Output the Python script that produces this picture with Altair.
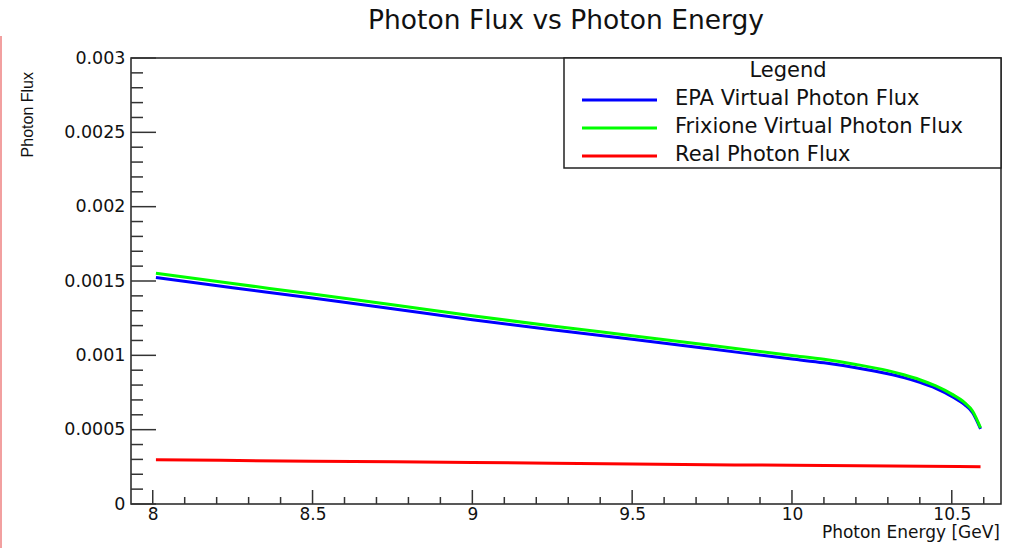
import altair as alt
import pandas as pd

# ---- data -----------------------------------------------------------------
energy = [8.01, 8.25, 8.5, 8.75, 9.0, 9.25, 9.5, 9.75, 10.0, 10.1, 10.2,
          10.3, 10.35, 10.4, 10.45, 10.5, 10.54, 10.565, 10.59]
epa_flux = [0.001523, 0.001455, 0.001385, 0.001313, 0.001240, 0.001172,
            0.001108, 0.001042, 0.000975, 0.000950, 0.000917, 0.000876,
            0.000850, 0.000818, 0.000778, 0.000724, 0.000668, 0.000615,
            0.000505]
frixione_flux = [0.001552, 0.001483, 0.001412, 0.001340, 0.001266, 0.001197,
                 0.001132, 0.001066, 0.000999, 0.000973, 0.000939, 0.000897,
                 0.000869, 0.000836, 0.000794, 0.000739, 0.000682, 0.000626,
                 0.000512]
real_energy = [8.01, 8.5, 9.0, 9.5, 10.0, 10.59]
real_flux = [0.000298, 0.000288, 0.000279, 0.000269, 0.000260, 0.000251]

series_names = ["EPA Virtual Photon Flux", "Frixione Virtual Photon Flux",
                "Real Photon Flux"]
series_colors = ["#0000ff", "#00ff00", "#ff0000"]

x_major = [8, 8.5, 9, 9.5, 10, 10.5]
y_major = [0, 0.0005, 0.001, 0.0015, 0.002, 0.0025, 0.003]
x_minor = [round(7.9 + 0.1 * i, 1) for i in range(1, 28)]
x_minor = [v for v in x_minor if v not in x_major]
y_minor = [round(0.0001 * i, 4) for i in range(0, 31)]
y_minor = [v for v in y_minor if v not in y_major]

FONT = "DejaVu Sans"
INK = "#111111"
W, H = 870, 446

x_scale = alt.Scale(domain=[7.932, 10.654], nice=False, zero=False)
y_scale = alt.Scale(domain=[0, 0.003], nice=False, zero=False)

x_axis = alt.Axis(values=x_major, labelExpr="'' + datum.value", title=None,
                  ticks=False, tickSize=0, domain=False, grid=False,
                  labelFont=FONT, labelFontSize=17, labelColor=INK,
                  labelPadding=2, labelFlush=False)
y_axis = alt.Axis(values=y_major, labelExpr="'' + datum.value", title=None,
                  ticks=False, tickSize=0, domain=False, grid=False,
                  labelFont=FONT, labelFontSize=17.5, labelColor=INK,
                  labelPadding=6)


def xq(field):
    return alt.X(f"{field}:Q", scale=x_scale, axis=x_axis)


def yq(field):
    return alt.Y(f"{field}:Q", scale=y_scale, axis=y_axis)


one_row = pd.DataFrame({"k": [0]})
layers = []

# ---- tick marks drawn inside the frame ------------------------------------
for vals, length in [(x_major, 14), (x_minor, 7)]:
    layers.append(
        alt.Chart(pd.DataFrame({"t": vals})).mark_rule(
            color="#333333", strokeWidth=1.5
        ).encode(x=xq("t"), y=alt.value(H), y2=alt.value(H - length))
    )
for vals, length in [(y_major, 25), (y_minor, 12)]:
    layers.append(
        alt.Chart(pd.DataFrame({"t": vals})).mark_rule(
            color="#333333", strokeWidth=1.5
        ).encode(y=yq("t"), x=alt.value(0), x2=alt.value(length))
    )

# ---- curves ---------------------------------------------------------------
curves = [
    (energy, epa_flux),
    (energy, frixione_flux),
    (real_energy, real_flux),
]
for (xs, ys), name, col in zip(curves, series_names, series_colors):
    df = pd.DataFrame({"energy": xs, "flux": ys, "series": name})
    layers.append(
        alt.Chart(df).mark_line(
            color=col, strokeWidth=3, interpolate="monotone"
        ).encode(x=xq("energy"), y=yq("flux"))
    )

# ---- legend box -----------------------------------------------------------
layers.append(
    alt.Chart(one_row).mark_rect(
        fill="white", stroke="#222222", strokeWidth=1.5
    ).encode(x=alt.value(433), x2=alt.value(W), y=alt.value(0),
             y2=alt.value(110))
)
layers.append(
    alt.Chart(one_row).mark_text(
        text="Legend", font=FONT, fontSize=21, color=INK,
        align="center", baseline="alphabetic"
    ).encode(x=alt.value(657), y=alt.value(19))
)
for i, (name, col) in enumerate(zip(series_names, series_colors)):
    layers.append(
        alt.Chart(one_row).mark_rule(color=col, strokeWidth=3).encode(
            x=alt.value(451), x2=alt.value(526), y=alt.value(42 + 28 * i)
        )
    )
    layers.append(
        alt.Chart(one_row).mark_text(
            text=name, font=FONT, fontSize=21, color=INK,
            align="left", baseline="alphabetic"
        ).encode(x=alt.value(544), y=alt.value(47 + 28 * i))
    )

# ---- titles ---------------------------------------------------------------
layers.append(
    alt.Chart(one_row).mark_text(
        text="Photon Flux vs Photon Energy", font=FONT, fontSize=26.5,
        color=INK, align="center", baseline="alphabetic"
    ).encode(x=alt.value(W / 2), y=alt.value(-28.7))
)
layers.append(
    alt.Chart(one_row).mark_text(
        text="Photon Energy [GeV]", font=FONT, fontSize=17, color=INK,
        align="right", baseline="alphabetic"
    ).encode(x=alt.value(869), y=alt.value(480))
)
layers.append(
    alt.Chart(one_row).mark_text(
        text="Photon Flux", font="Liberation Sans", fontSize=16, color=INK,
        angle=270, align="right", baseline="alphabetic"
    ).encode(x=alt.value(-98), y=alt.value(14))
)

# thin pink rule along the left page edge
layers.append(
    alt.Chart(one_row).mark_rule(color="#f2a0a0", strokeWidth=2).encode(
        x=alt.value(-130), y=alt.value(-22), y2=alt.value(H + 44)
    )
)

chart = alt.layer(*layers).properties(
    width=W, height=H,
    autosize=alt.AutoSizeParams(type="none"),
    padding={"left": 131, "top": 58, "right": 12, "bottom": 44},
    background="white",
).configure_view(stroke="#222222", strokeWidth=1.5)

chart.save("out.html", embed_options={"renderer": "svg", "actions": False})
